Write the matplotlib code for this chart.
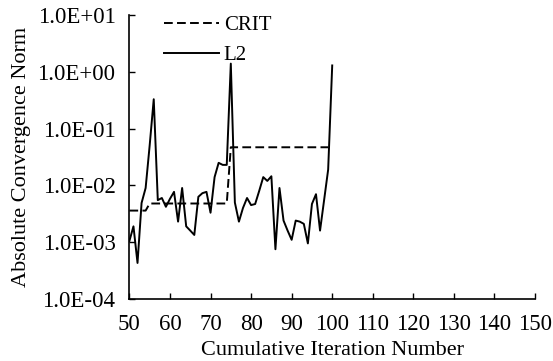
import numpy as np
import matplotlib.pyplot as plt
from matplotlib.ticker import FuncFormatter, FixedLocator, NullLocator

plt.rcParams['font.family'] = ['Liberation Serif', 'DejaVu Serif']

# Convergence history
iterations = list(range(50, 101))
l2_norm = [1.05e-3, 1.9e-3, 4.3e-4, 4.9e-3, 9.0e-3, 5.1e-2, 3.3e-1, 5.5e-3, 6.0e-3, 4.2e-3,
           5.8e-3, 7.7e-3, 2.3e-3, 9.0e-3, 1.9e-3, 1.6e-3, 1.34e-3, 6.3e-3, 7.3e-3, 7.7e-3,
           3.3e-3, 1.4e-2, 2.5e-2, 2.3e-2, 2.3e-2, 1.4e+0, 5.0e-3, 2.3e-3, 4.0e-3, 6.0e-3,
           4.5e-3, 4.7e-3, 8.0e-3, 1.4e-2, 1.2e-2, 1.45e-2, 7.5e-4, 9.0e-3, 2.4e-3, 1.6e-3,
           1.1e-3, 2.4e-3, 2.3e-3, 2.1e-3, 9.5e-4, 4.7e-3, 7.0e-3, 1.6e-3, 5.5e-3, 1.9e-2,
           1.3e+0]

crit_iterations = list(range(50, 100))
crit_norm = [3.6e-3] * 5 + [4.8e-3] * 20 + [4.7e-2] * 25

y_ticks = [1e-4, 1e-3, 1e-2, 1e-1, 1e0, 1e1]
x_ticks = list(range(50, 151, 10))

fig = plt.figure(figsize=(5.53, 3.61), dpi=100)
ax = fig.add_axes([0.234, 0.172, 0.7335, 0.786])

ax.plot(crit_iterations, crit_norm, color='black', lw=1.4, ls=(0, (4.5, 2.2)), label='CRIT')
ax.plot(iterations, l2_norm, color='black', lw=1.4, label='L2')

ax.set_yscale('log')
ax.set_ylim(1e-4, 1e1)
ax.set_xlim(50, 150)
ax.yaxis.set_major_locator(FixedLocator(y_ticks))
ax.yaxis.set_minor_locator(NullLocator())
ax.yaxis.set_major_formatter(FuncFormatter(lambda v, p: '%.1E' % v))
ax.set_xticks(x_ticks)

for side in ['top', 'right']:
    ax.spines[side].set_visible(False)
for side in ['left', 'bottom']:
    ax.spines[side].set_linewidth(1.2)

ax.tick_params(direction='in', length=4, width=1.0, labelsize=16.5, pad=11)
ax.tick_params(axis='y', pad=10)

ax.set_xlabel('Cumulative Iteration Number', fontsize=16, labelpad=4)
ax.set_ylabel('Absolute Convergence Norm', fontsize=16, labelpad=5)

ax.legend(loc='upper left', bbox_to_anchor=(0.04, 1.065), frameon=False, fontsize=15,
          handlelength=2.6, handletextpad=0.25, labelspacing=0.5)

fig.savefig('out.png', dpi=100)
